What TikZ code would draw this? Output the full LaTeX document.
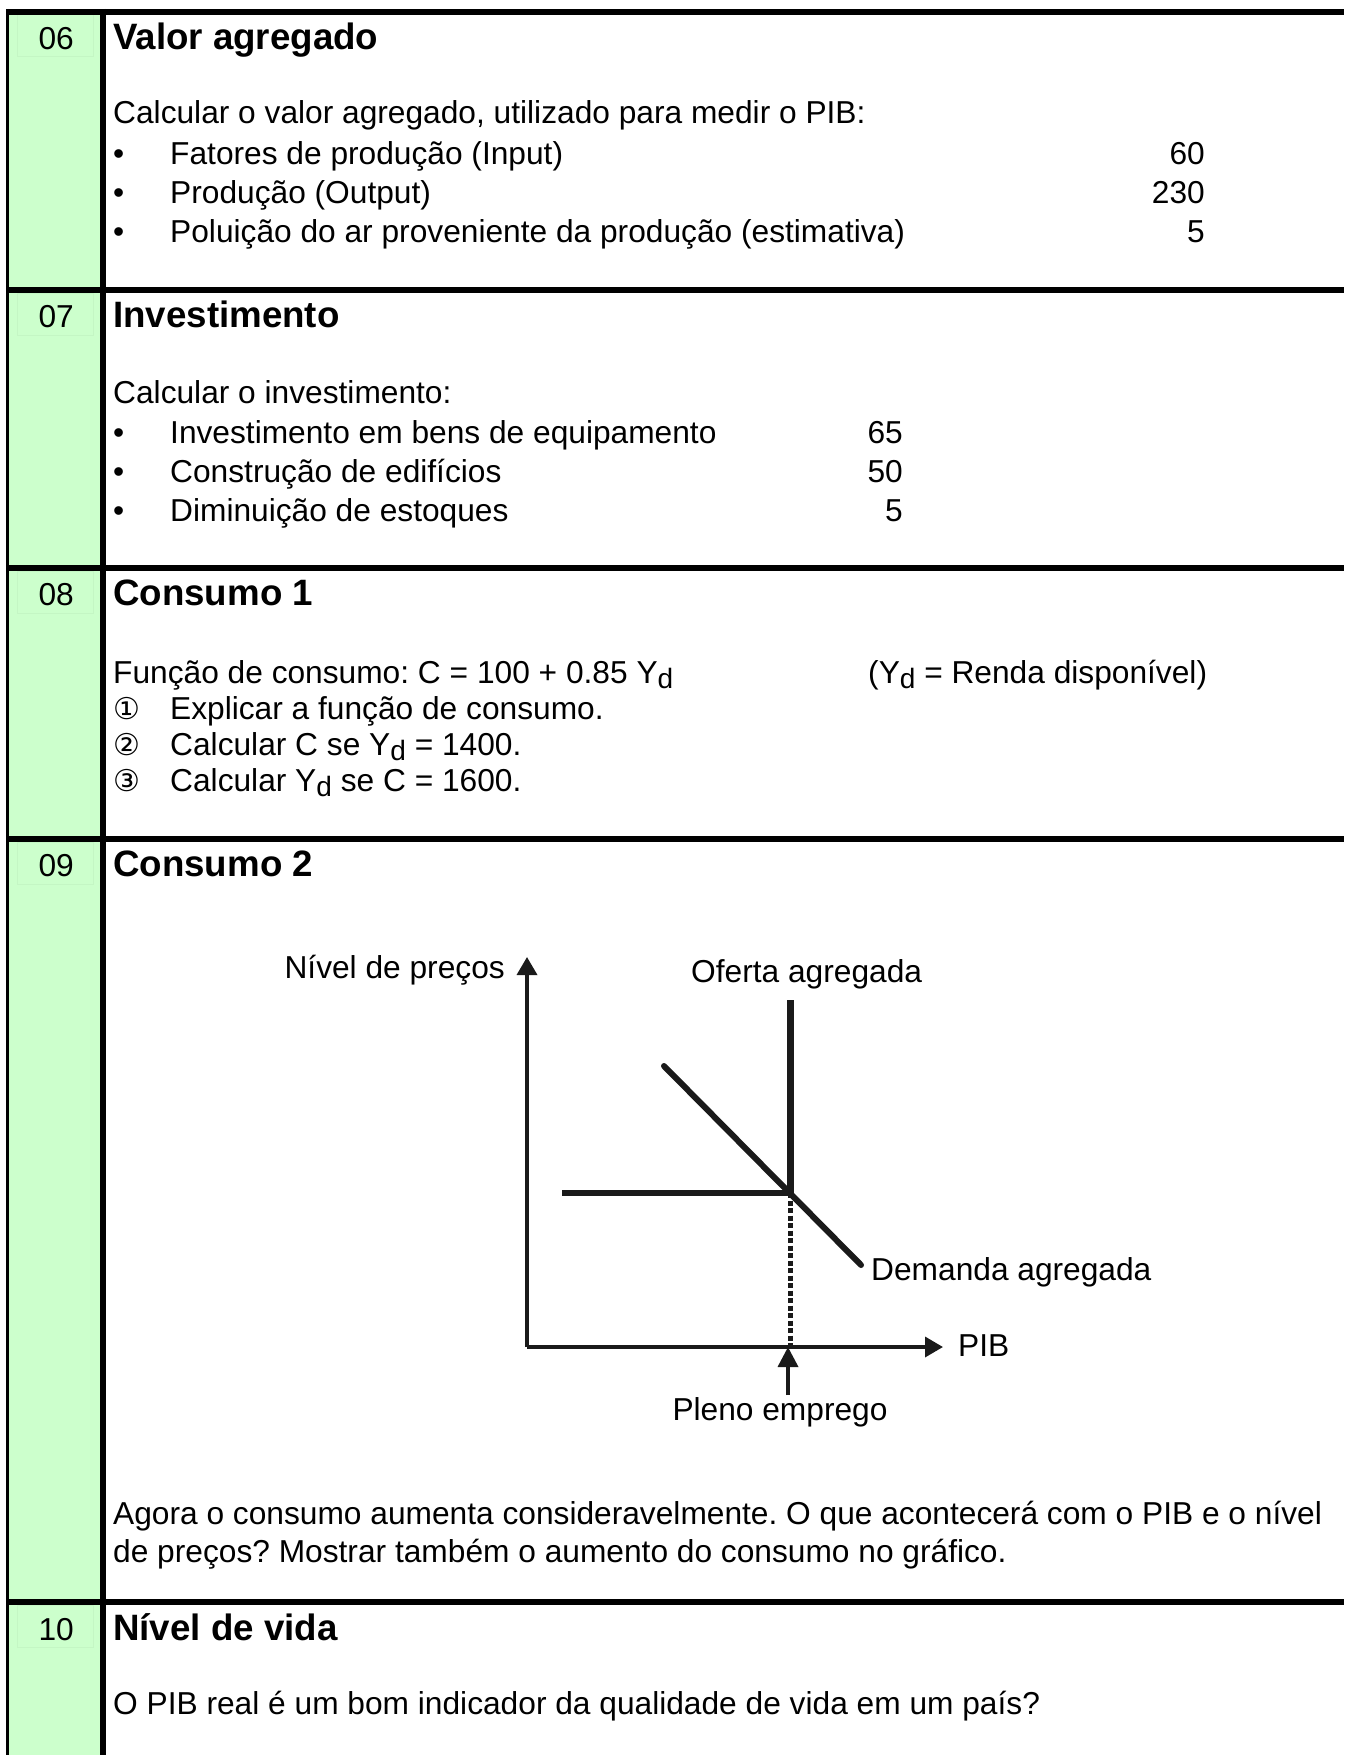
\documentclass[tikz,border=0pt]{standalone}
\usepackage{fontspec}
\setmainfont{Liberation Sans}
\newfontfamily\circfont{DejaVu Sans}
\usetikzlibrary{arrows.meta}
\definecolor{cellgreen}{RGB}{204,255,204}
\definecolor{faintline}{RGB}{196,246,196}
\definecolor{ink}{RGB}{26,26,26}
\newcommand\Yd{Y\raisebox{-5pt}{\fontsize{28}{30}\selectfont d}}
\newcommand\circnum[1]{{\circfont\fontsize{30}{32}\selectfont #1}}
\frenchspacing
\begin{document}
\begin{tikzpicture}[x=1pt,y=-1pt,
  body/.style={anchor=base west, inner sep=0pt, font=\fontsize{31.7}{38}\selectfont},
  bodyr/.style={anchor=base east, inner sep=0pt, font=\fontsize{31.7}{38}\selectfont},
  bodyc/.style={anchor=base, inner sep=0pt, font=\fontsize{31.7}{38}\selectfont},
  ttl/.style={anchor=base west, inner sep=0pt, font=\fontsize{36.7}{44}\selectfont\bfseries},
  rulex/.style={line width=6pt},
  axis/.style={draw=ink, line width=3.5pt, -{Triangle[length=18pt,width=20pt]}},
  curve/.style={draw=ink, line width=6.5pt},
  faintbox/.style={draw=faintline, line width=1pt}
]
\fill[white] (0,0) rectangle (1344,1755);
\useasboundingbox (0,0) rectangle (1344,1755);
% green column
\fill[cellgreen] (9,12) rectangle (100,1755);
% faint number cell borders
\foreach \yy in {12,290,568,839,1602}{
  \draw[faintbox] (17,\yy+3) rectangle (93,\yy+45);
}
% frame lines
\draw[line width=3pt] (7.5,9) -- (7.5,1755);
\draw[line width=6pt] (103,9) -- (103,1755);
\foreach \yy in {12,290,568,839,1602}{
  \draw[rulex] (6,\yy) -- (1344,\yy);
}

% ---- 06
\node[bodyr] (n06) at (74,49.5) {06};
\node[ttl] (t06) at (113,49.5) {Valor agregado};
\node[body] (a06) at (113,124) {Calcular o valor agregado, utilizado para medir o PIB:};
\node[body] (b061) at (113,165) {•};
\node[body] (i061) at (170,165) {Fatores de produção (Input)};
\node[bodyr] (v061) at (1205,165) {60};
\node[body] (b062) at (113,203.5) {•};
\node[body] (i062) at (170,203.5) {Produção (Output)};
\node[bodyr] (v062) at (1205,203.5) {230};
\node[body] (b063) at (113,242) {•};
\node[body] (i063) at (170,242) {Poluição do ar proveniente da produção (estimativa)};
\node[bodyr] (v063) at (1205,242) {5};

% ---- 07
\node[bodyr] (n07) at (74,327.5) {07};
\node[ttl] (t07) at (113,327.5) {Investimento};
\node[body] (a07) at (113,403) {Calcular o investimento:};
\node[body] (b071) at (113,443) {•};
\node[body] (i071) at (170,443) {Investimento em bens de equipamento};
\node[bodyr] (v071) at (903,443) {65};
\node[body] (b072) at (113,482) {•};
\node[body] (i072) at (170,482) {Construção de edifícios};
\node[bodyr] (v072) at (903,482) {50};
\node[body] (b073) at (113,521) {•};
\node[body] (i073) at (170,521) {Diminuição de estoques};
\node[bodyr] (v073) at (903,521) {5};

% ---- 08
\node[bodyr] (n08) at (74,605.5) {08};
\node[ttl] (t08) at (113,605.5) {Consumo 1};
\node[body] (a08) at (113,683) {Função de consumo: C = 100 + 0.85 \Yd};
\node[body] (r08) at (868,683) {(\Yd{} = Renda disponível)};
\node[body] (c081) at (113,719) {\circnum{①}};
\node[body] (i081) at (170,719) {Explicar a função de consumo.};
\node[body] (c082) at (113,755) {\circnum{②}};
\node[body] (i082) at (170,755) {Calcular C se \Yd{} = 1400.};
\node[body] (c083) at (113,791) {\circnum{③}};
\node[body] (i083) at (170,791) {Calcular \Yd{} se C = 1600.};

% ---- 09
\node[bodyr] (n09) at (74,876.5) {09};
\node[ttl] (t09) at (113,876.5) {Consumo 2};
% chart
\coordinate (O) at (527,1347);
\coordinate (ytop) at (527,957);
\coordinate (xend) at (943,1347);
\coordinate (eq) at (790.5,1193);
\coordinate (ashort) at (562,1193);
\coordinate (astop) at (790.5,1000);
\coordinate (dtop) at (664,1066);
\coordinate (dbot) at (861,1265);
\coordinate (eqbase) at (790.5,1347);
\coordinate (pstart) at (788,1395);
\coordinate (ptip) at (788,1347);
\draw[axis] (O) -- (ytop);
\draw[axis] (O) -- (xend);
\draw[curve, line join=miter] (ashort) -- (eq) -- (astop);
\draw[curve, line width=6pt, line cap=round] (dtop) -- (dbot);
\draw[ink, line width=4.5pt, dash pattern=on 5pt off 2.5pt] (eq) -- (eqbase);
\draw[draw=ink, line width=3.5pt, -{Triangle[length=20pt,width=20pt]}] (pstart) -- (ptip);
\node[bodyr] (lny) at (505,978) {Nível de preços};
\node[body] (lof) at (691,982) {Oferta agregada};
\node[body] (lde) at (871,1280) {Demanda agregada};
\node[body] (lpib) at (958,1356) {PIB};
\node[bodyc] (lpe) at (780,1420) {Pleno emprego};
\node[body] (q091) at (113,1524) {Agora o consumo aumenta consideravelmente. O que acontecerá com o PIB e o nível};
\node[body] (q092) at (113,1562) {de preços? Mostrar também o aumento do consumo no gráfico.};

% ---- 10
\node[bodyr] (n10) at (74,1640) {10};
\node[ttl] (t10) at (113,1640) {Nível de vida};
\node[body] (a10) at (113,1714) {O PIB real é um bom indicador da qualidade de vida em um país?};
\end{tikzpicture}
\end{document}
